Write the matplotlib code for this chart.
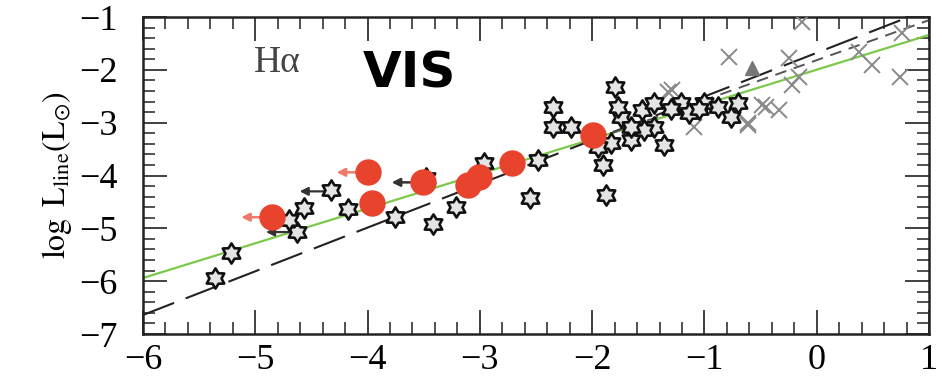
import matplotlib
matplotlib.use('Agg')
import matplotlib.pyplot as plt
from matplotlib.path import Path
from matplotlib.ticker import MultipleLocator

plt.rcParams['font.family'] = ['Liberation Serif', 'DejaVu Serif']
plt.rcParams['mathtext.fontset'] = 'stix'

# stars (sample objects)
star_x = [-5.36, -5.22, -4.63, -4.57, -4.70, -4.33, -4.17, -3.76, -3.42, -3.21,
          -3.48, -2.96, -2.48, -2.55, -2.35, -2.35, -2.19, -1.80, -1.90, -1.88,
          -1.83, -1.74, -1.65, -1.56, -1.45, -1.45, -1.36, -1.54, -1.21, -1.14,
          -1.00, -0.88, -0.76, -0.70, -1.77, -1.65, -1.30, -1.05, -1.95]
star_y = [-5.94, -5.47, -5.07, -4.62, -4.85, -4.28, -4.64, -4.79, -4.91, -4.60,
          -4.05, -3.77, -3.71, -4.43, -2.70, -3.08, -3.08, -2.33, -3.80, -4.37,
          -3.39, -2.89, -3.33, -2.76, -2.63, -3.08, -3.42, -3.14, -2.63, -2.82,
          -2.63, -2.70, -2.89, -2.63, -2.70, -3.08, -2.75, -2.75, -3.46]

# upper limits on stars (arrows to the left)
star_lim_x = [-4.63, -4.33]
star_lim_y = [-5.07, -4.30]

# crosses (comparison sample)
cross_x = [-1.32, -1.09, -0.61, -0.49, -0.78, -0.25, -0.22, -0.16, -0.45, -0.34,
           -0.13, 0.49, 0.38, 0.74, 0.76, -1.29, -0.61]
cross_y = [-2.42, -3.08, -3.05, -2.67, -1.76, -1.78, -2.29, -2.14, -2.70, -2.76,
           -1.09, -1.91, -1.66, -2.14, -1.30, -2.38, -3.01]

tri_x = [-0.58]
tri_y = [-1.97]

# red circles (VIS)
red_x = [-4.85, -4.00, -3.96, -3.51, -3.11, -3.01, -2.71, -1.99]
red_y = [-4.79, -3.94, -4.52, -4.13, -4.18, -4.03, -3.77, -3.23]
red_lim_x = [-4.85, -4.00]
red_lim_y = [-4.79, -3.94]
red_blk_lim_x = [-3.51]
red_blk_lim_y = [-4.13]

# fit lines
green_x = [-6.0, 1.0]
green_y = [-5.94, -1.34]
dash_x = [-6.0, 0.82]
dash_y = [-6.64, -1.00]
sdash_x = [-2.0, 1.0]
sdash_y = [-3.33, -1.06]

arrow_len = 0.3

fig = plt.figure(figsize=(9.42, 3.84), dpi=100)
ax = fig.add_axes([0.1518, 0.1302, 0.8344, 0.8255])

ax.plot(green_x, green_y, color='#7cc84a', lw=1.6, zorder=2)
ax.plot(dash_x, dash_y, color='#222222', lw=1.5, dashes=(16, 6), zorder=2)
ax.plot(sdash_x, sdash_y, color='#555555', lw=1.4, dashes=(6, 4), zorder=2)

ax.plot(cross_x, cross_y, ls='none', marker='x', ms=11, mew=1.4, color='#8a8a8a', zorder=3)
ax.plot(tri_x, tri_y, ls='none', marker='^', ms=10, color='#777777', zorder=3)

hexagram = Path.unit_regular_star(6, 0.6)
ax.plot(star_x, star_y, ls='none', marker=hexagram, ms=14.5, mfc='#e4e4e4',
        mec='#111111', mew=1.9, zorder=4)

for x, y in zip(star_lim_x, star_lim_y):
    ax.annotate('', xy=(x - arrow_len, y), xytext=(x, y),
                arrowprops=dict(arrowstyle='-|>', color='#333333', lw=1.6,
                                mutation_scale=12), zorder=3)
for x, y in zip(red_blk_lim_x, red_blk_lim_y):
    ax.annotate('', xy=(x - arrow_len, y), xytext=(x, y),
                arrowprops=dict(arrowstyle='-|>', color='#333333', lw=1.8,
                                mutation_scale=12), zorder=3)
for x, y in zip(red_lim_x, red_lim_y):
    ax.annotate('', xy=(x - arrow_len, y), xytext=(x, y),
                arrowprops=dict(arrowstyle='-|>', color='#f07a6a', lw=1.8,
                                mutation_scale=12), zorder=3)

ax.plot(red_x, red_y, ls='none', marker='o', ms=18, mfc='#e8432d', mec='#e8432d',
        zorder=5)

ax.text(-4.80, -2.04, 'H\u03b1', fontsize=27, color='#444444', ha='center', va='baseline')
ax.text(-3.63, -2.33, 'VIS', fontsize=36, fontweight='bold', family='DejaVu Sans',
        color='black', ha='center', va='baseline')

ax.set_xlim(-6, 1)
ax.set_ylim(-7, -1)
ax.xaxis.set_major_locator(MultipleLocator(1))
ax.xaxis.set_minor_locator(MultipleLocator(0.2))
ax.yaxis.set_major_locator(MultipleLocator(1))
ax.yaxis.set_minor_locator(MultipleLocator(0.2))
ax.tick_params(which='both', direction='in', top=True, right=True, color='#333333')
ax.tick_params(which='major', length=17, width=1.3, labelsize=26)
ax.tick_params(which='minor', length=8.5, width=1.2)
ax.tick_params(axis='x', which='major', pad=7)
ax.tick_params(axis='y', which='major', pad=18)
for s in ax.spines.values():
    s.set_linewidth(1.8)
    s.set_color('#222222')

ax.set_ylabel(r'$\log\ \mathrm{L}_{\rm line}(\mathrm{L}_{\odot})$', fontsize=23, labelpad=4)

fig.savefig('out.png', dpi=100)
